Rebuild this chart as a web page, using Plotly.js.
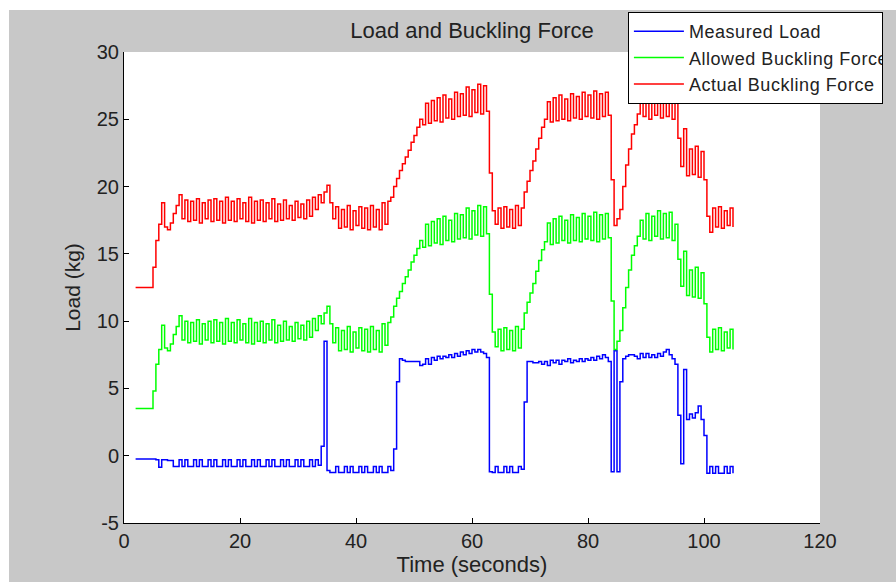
<!DOCTYPE html>
<html>
<head>
<meta charset="utf-8">
<script src="https://cdn.plot.ly/plotly-3.0.1.min.js"></script>
<style>
  html, body { margin: 0; padding: 0; background: #ffffff; width: 896px; height: 582px; overflow: hidden; }
  #chart { position: absolute; left: 9px; top: 10px; width: 887px; height: 572px; }
  #chart .legendtext { letter-spacing: 0.55px; }
</style>
</head>
<body>
<div id="chart"></div>
<script>
// Time samples (seconds)
var time = [
  2,2.5,3,3.5,4,4.5,5,5.5,6,6.5,7,7.5,8,8.5,9,9.5,10,
  10.5,11,11.5,12,12.5,13,13.5,14,14.5,15,15.5,16,16.5,17,17.5,18,18.5,19,19.5,20,
  20.5,21,21.5,22,22.5,23,23.5,24,24.5,25,25.5,26,26.5,27,27.5,28,28.5,29,29.5,30,
  30.5,31,31.5,32,32.5,33,33.5,34,34.5,35,35.5,36,36.5,37,37.5,38,38.5,39,39.5,40,
  40.5,41,41.5,42,42.5,43,43.5,44,44.5,45,45.5,46,46.5,47,47.5,48,48.5,49,49.5,50,
  50.5,51,51.5,52,52.5,53,53.5,54,54.5,55,55.5,56,56.5,57,57.5,58,58.5,59,59.5,60,
  60.5,61,61.5,62,62.5,63,63.5,64,64.5,65,65.5,66,66.5,67,67.5,68,68.5,69,69.5,70,
  70.5,71,71.5,72,72.5,73,73.5,74,74.5,75,75.5,76,76.5,77,77.5,78,78.5,79,79.5,80,
  80.5,81,81.5,82,82.5,83,83.5,84,84.5,85,85.5,86,86.5,87,87.5,88,88.5,89,89.5,90,
  90.5,91,91.5,92,92.5,93,93.5,94,94.5,95,95.5,96,96.5,97,97.5,98,98.5,99,99.5,100,
  100.5,101,101.5,102,102.5,103,103.5,104,104.5,105
];

// Measured Load (kg)
var measuredLoad = [
  -0.25,-0.25,-0.25,-0.25,-0.25,-0.25,-0.25,-0.3,-0.85,-0.3,-0.3,-0.35,-0.35,-0.8,-0.8,-0.3,-0.8,
  -0.3,-0.8,-0.8,-0.3,-0.8,-0.3,-0.8,-0.8,-0.3,-0.8,-0.3,-0.8,-0.8,-0.3,-0.8,-0.3,-0.8,-0.8,-0.3,-0.8,
  -0.3,-0.8,-0.8,-0.3,-0.8,-0.3,-0.8,-0.8,-0.3,-0.8,-0.3,-0.8,-0.8,-0.3,-0.8,-0.3,-0.8,-0.8,-0.3,-0.8,
  -0.3,-0.8,-0.8,-0.3,-0.8,-0.3,-0.7,0.7,8.5,-1.1,-1.25,-1.25,-0.8,-1.25,-1.25,-0.8,-1.25,-0.8,-1.25,-1.25,
  -0.8,-1.25,-0.8,-1.25,-1.25,-0.8,-1.25,-0.8,-1.25,-1.25,-0.8,-1.1,0.5,5.5,7.2,7.1,7.0,7.0,7.0,7.0,
  7.0,6.7,6.8,7.2,6.8,7.3,7.1,7.4,7.2,7.4,7.3,7.5,7.3,7.6,7.4,7.7,7.5,7.8,7.6,7.9,
  7.7,7.9,7.7,7.6,7.3,-1.2,-1.25,-0.8,-1.25,-1.25,-0.8,-1.25,-0.8,-1.25,-1.25,-0.8,-1.0,4.0,7.0,7.0,
  6.9,6.9,7.0,6.8,7.0,6.7,7.1,6.9,7.1,6.8,7.1,7.0,7.2,6.9,7.1,7.0,7.2,7.0,7.2,7.1,
  7.3,7.1,7.4,7.2,7.5,7.3,7.0,-1.2,7.8,-1.2,5.5,7.2,7.4,7.5,7.5,7.4,7.2,7.6,7.3,7.6,
  7.3,7.5,7.3,7.6,7.4,7.7,7.9,7.5,7.2,6.8,3.0,-0.6,6.4,2.7,3.1,2.8,3.2,3.7,2.7,1.5,
  -1.3,-0.8,-1.3,-0.8,-1.3,-1.3,-0.8,-1.3,-0.8,-1.3
];

// Allowed Buckling Force (kg)
var allowedBuckling = [
  3.5,3.5,3.5,3.5,3.5,3.5,4.8,6.8,7.9,9.7,8.0,7.8,8.3,9.0,9.6,10.4,8.6,
  10.0,8.4,9.9,8.5,10.1,8.3,9.8,8.6,10.0,8.4,10.1,8.5,9.9,8.3,10.2,8.5,9.9,8.4,10.1,8.6,
  9.8,8.4,10.2,8.3,9.9,8.5,10.0,8.4,9.8,8.6,10.1,8.4,9.7,8.5,10.0,8.6,9.6,8.5,9.9,8.7,
  9.7,8.6,10.0,8.8,10.2,9.3,10.4,9.8,10.6,11.1,9.8,8.4,9.5,7.8,9.3,7.9,9.6,7.7,9.2,8.0,
  9.5,7.8,9.4,7.7,9.6,7.9,9.3,7.7,9.8,8.2,9.9,10.3,11.1,11.7,12.2,12.8,13.3,13.8,14.4,14.9,
  15.4,16.0,15.5,17.2,15.6,17.4,15.8,17.6,15.7,17.8,16.0,17.5,15.9,18.0,16.1,17.9,16.2,18.4,16.1,18.2,
  16.4,18.6,16.3,18.5,16.5,12.0,9.2,8.1,9.4,7.8,9.5,7.9,9.3,7.8,9.6,8.0,9.4,10.6,11.4,12.1,
  12.8,13.7,14.5,15.3,15.9,17.3,15.7,17.6,15.8,17.8,16.0,17.5,15.8,17.9,16.0,17.7,15.9,18.0,16.1,17.8,
  16.0,18.1,15.9,17.9,16.1,18.0,16.2,11.5,7.9,8.5,9.3,11.0,12.5,13.8,14.9,15.6,16.3,17.5,16.1,18.0,
  16.0,17.8,16.3,18.2,16.1,18.0,16.2,18.1,16.0,17.2,14.6,12.6,15.2,11.9,13.8,11.8,14.0,11.7,13.6,11.3,
  8.8,7.7,9.4,7.9,9.5,7.8,9.2,8.0,9.4,7.9
];

// Actual Buckling Force (kg)
var actualBuckling = [
  12.5,12.5,12.5,12.5,12.5,12.5,14.0,16.0,17.2,18.8,17.0,16.8,17.3,18.0,18.6,19.4,17.6,
  19.0,17.4,18.9,17.5,19.1,17.3,18.8,17.6,19.0,17.4,19.1,17.5,18.9,17.3,19.2,17.5,18.9,17.4,19.1,17.6,
  18.8,17.4,19.2,17.3,18.9,17.5,19.0,17.4,18.8,17.6,19.1,17.4,18.7,17.5,19.0,17.6,18.6,17.5,18.9,17.7,
  18.7,17.6,19.0,17.8,19.2,18.3,19.4,18.8,19.6,20.1,18.8,17.6,18.5,16.9,18.3,17.0,18.6,16.8,18.2,17.1,
  18.5,16.9,18.4,16.8,18.6,17.0,18.3,16.8,18.8,17.2,18.9,19.2,20.0,20.6,21.2,21.7,22.2,22.7,23.3,23.8,
  24.4,25.0,24.6,26.2,24.7,26.4,24.9,26.6,24.8,26.8,25.1,26.5,25.0,27.0,25.2,26.9,25.3,27.4,25.2,27.2,
  25.5,27.6,25.4,27.5,25.6,21.0,18.2,17.2,18.4,16.9,18.5,17.0,18.3,16.9,18.6,17.1,18.4,19.6,20.4,21.2,
  21.9,22.8,23.6,24.4,25.0,26.3,24.8,26.6,24.9,26.8,25.0,26.5,24.9,26.9,25.1,26.7,25.0,27.0,25.2,26.8,
  25.1,27.1,25.0,26.9,25.2,27.0,25.3,20.5,17.1,17.6,18.3,20.0,21.6,22.8,23.9,24.6,25.4,26.5,25.2,27.0,
  25.0,26.8,25.3,27.1,25.1,26.9,25.2,27.0,25.0,26.2,23.6,21.5,24.3,20.8,22.8,20.9,23.0,20.7,22.6,20.5,
  17.8,16.6,18.4,17.0,18.5,16.9,18.2,17.1,18.4,17.0
];

var seriesNames = ['Measured Load', 'Allowed Buckling Force', 'Actual Buckling Force'];
var xTickVals = [0, 20, 40, 60, 80, 100, 120];
var yTickVals = [-5, 0, 5, 10, 15, 20, 25, 30];

var FONT = 'Liberation Sans, Arial, Helvetica, sans-serif';
var TXT = '#222222';

var traces = [
  { x: time, y: measuredLoad, name: seriesNames[0], type: 'scatter', mode: 'lines',
    line: { color: '#0000ff', width: 1.5, shape: 'hv' } },
  { x: time, y: allowedBuckling, name: seriesNames[1], type: 'scatter', mode: 'lines',
    line: { color: '#00ff00', width: 1.5, shape: 'hv' } },
  { x: time, y: actualBuckling, name: seriesNames[2], type: 'scatter', mode: 'lines',
    line: { color: '#ff0000', width: 1.5, shape: 'hv' } }
];

var layout = {
  width: 887,
  height: 572,
  paper_bgcolor: '#c8c8c8',
  plot_bgcolor: '#ffffff',
  margin: { l: 115, r: 76, t: 42, b: 59, autoexpand: false },
  font: { family: FONT, color: TXT, size: 19 },
  title: {
    text: 'Load and Buckling Force',
    font: { family: FONT, size: 22, color: TXT },
    x: 0.5, xref: 'paper', xanchor: 'center',
    y: 0.965, yanchor: 'middle', yref: 'container'
  },
  xaxis: {
    range: [0, 120],
    tickvals: xTickVals,
    ticktext: xTickVals.map(String),
    ticks: 'inside', ticklen: 5, tickwidth: 1, tickcolor: '#000',
    showline: true, linecolor: '#000', linewidth: 1, mirror: false,
    showgrid: false, zeroline: false,
    tickfont: { family: FONT, size: 20, color: TXT },
    title: { text: 'Time (seconds)', font: { family: FONT, size: 22, color: TXT }, standoff: 2 }
  },
  yaxis: {
    range: [-5, 30],
    tickvals: yTickVals,
    ticktext: yTickVals.map(String),
    ticks: 'inside', ticklen: 5, tickwidth: 1, tickcolor: '#000',
    showline: true, linecolor: '#000', linewidth: 1, mirror: false,
    showgrid: false, zeroline: false,
    tickfont: { family: FONT, size: 20, color: TXT },
    title: { text: 'Load (kg)', font: { family: FONT, size: 21, color: TXT }, standoff: 10 }
  },
  showlegend: true,
  legend: {
    x: 0.724, xanchor: 'left',
    y: 1.085, yanchor: 'top',
    bgcolor: '#ffffff', bordercolor: '#000000', borderwidth: 1,
    font: { family: FONT, size: 18, color: TXT },
    itemwidth: 50,
    tracegroupgap: 0
  }
};

Plotly.newPlot('chart', traces, layout, { displayModeBar: false, staticPlot: true });
</script>
</body>
</html>
